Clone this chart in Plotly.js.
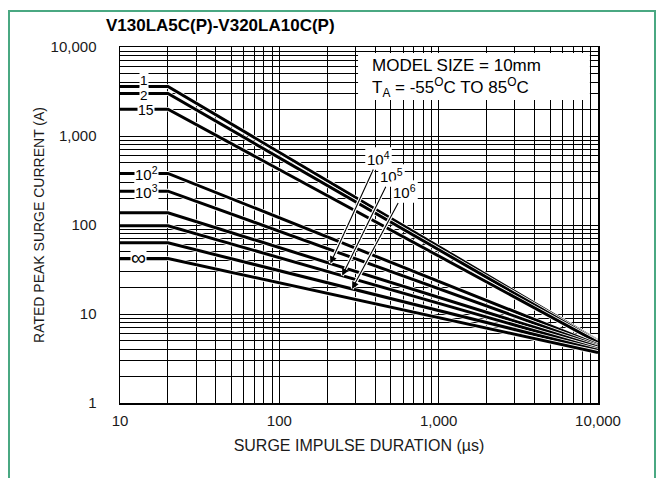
<!DOCTYPE html>
<html>
<head>
<meta charset="utf-8">
<script src="https://cdn.plot.ly/plotly-3.0.1.min.js"></script>
<style>
  html, body { margin: 0; padding: 0; background: #fff; }
  #wrap { position: relative; width: 658px; height: 478px; overflow: hidden; }
  #chart { position: absolute; left: 0; top: 0; width: 658px; height: 478px; }
  #frame { position: absolute; left: 8px; top: 10px; width: 648px; height: 520px;
           box-sizing: border-box; border: 2px solid #4aa882; pointer-events: none; z-index: 5; }
</style>
</head>
<body>
<div id="wrap"><div id="chart"></div><div id="frame"></div></div>
<script>
// ---- data ----
const durations = [10, 20, 10000];                       // µs
const curveNames = ['1', '2', '15', '10²', '10³', '10⁴', '10⁵', '10⁶', '∞'];
const startCurrent = [3600, 3000, 2000, 380, 240, 137, 98, 63, 42];   // A, flat part 10–20 µs
const endCurrent = [5.0, 4.9, 4.8, 4.5, 4.35, 4.25, 4.05, 3.9, 3.7];  // A at 10,000 µs

const xTickVals = [10,20,30,40,50,60,70,80,90,100,200,300,400,500,600,700,800,900,1000,2000,3000,4000,5000,6000,7000,8000,9000,10000];
const xTickText = ['10','','','','','','','','','100','','','','','','','','','1,000','','','','','','','','','10,000'];
const yTickVals = [1,2,3,4,5,6,7,8,9,10,20,30,40,50,60,70,80,90,100,200,300,400,500,600,700,800,900,1000,2000,3000,4000,5000,6000,7000,8000,9000,10000];
const yTickText = ['1','','','','','','','','','10','','','','','','','','','100','','','','','','','','','1,000','','','','','','','','','10,000'];

// left-side inline labels: curve index, x position, vertical shift (px), font size
const leftLabelIdx = [0, 1, 2, 3, 4, 8];
const leftLabelX = [14.2, 14.2, 14.5, 14.7, 14.7, 13.0];
const leftLabelShift = [6, -2, -1, 0, 0, 1];
const leftLabelSize = [13.5, 13.5, 14, 15, 15, 21];
// arrow labels
const arrowLabelIdx = [5, 6, 7];
const arrowHeadX = [209, 248, 286];
const arrowAx = [48, 49, 52];
const arrowAy = [-105, -100, -97];

const FONT = 'Liberation Sans, Arial, Helvetica, sans-serif';

function curveAt(i, x) {
  // log-log interpolation along the sloped part of curve i
  const lx0 = Math.log10(durations[1]), lx1 = Math.log10(durations[2]);
  const ly0 = Math.log10(startCurrent[i]), ly1 = Math.log10(endCurrent[i]);
  const t = (Math.log10(x) - lx0) / (lx1 - lx0);
  return Math.pow(10, ly0 + t * (ly1 - ly0));
}

const traces = [];
curveNames.forEach((name, i) => {
  const ys = [startCurrent[i], startCurrent[i], endCurrent[i]];
  traces.push({ x: durations, y: ys, type: 'scatter', mode: 'lines', hoverinfo: 'skip',
    line: { color: '#ffffff', width: 4.6 }, showlegend: false });
  traces.push({ x: durations, y: ys, type: 'scatter', mode: 'lines', name: name,
    line: { color: '#000000', width: 3 }, showlegend: false });
});

const annotations = [];
leftLabelIdx.forEach((ci, k) => {
  annotations.push({
    x: Math.log10(leftLabelX[k]), y: Math.log10(startCurrent[ci]), xref: 'x', yref: 'y',
    text: curveNames[ci].replace('²', '<sup>2</sup>').replace('³', '<sup>3</sup>'),
    showarrow: false, xanchor: 'center', yanchor: 'middle', yshift: leftLabelShift[k],
    bgcolor: '#ffffff', borderpad: 0,
    font: { family: FONT, size: leftLabelSize[k], color: '#000' }
  });
});
const supMap = { '⁴': '4', '⁵': '5', '⁶': '6' };
arrowLabelIdx.forEach((ci, k) => {
  const txt = '10<sup>' + supMap[curveNames[ci].slice(2)] + '</sup>';
  const hx = arrowHeadX[k], hy = curveAt(ci, hx);
  // white halo under the arrow
  annotations.push({
    x: Math.log10(hx), y: Math.log10(hy), xref: 'x', yref: 'y', text: txt,
    showarrow: true, ax: arrowAx[k], ay: arrowAy[k], arrowcolor: '#ffffff', arrowwidth: 3.5,
    arrowhead: 0, standoff: 0, bgcolor: '#ffffff', borderpad: 1,
    font: { family: FONT, size: 15, color: '#000' }
  });
  annotations.push({
    x: Math.log10(hx), y: Math.log10(hy), xref: 'x', yref: 'y', text: txt,
    showarrow: true, ax: arrowAx[k], ay: arrowAy[k], arrowcolor: '#000000', arrowwidth: 1.1,
    arrowhead: 2, arrowsize: 1.3, standoff: 0, bgcolor: '#ffffff', borderpad: 1,
    font: { family: FONT, size: 15, color: '#000' }
  });
});
annotations.push({
  xref: 'paper', yref: 'paper', x: 0.523, y: 0.947, xanchor: 'left', yanchor: 'middle',
  text: 'MODEL SIZE = 10mm', showarrow: false, align: 'left',
  font: { family: FONT, size: 17, color: '#000' }
});
annotations.push({
  xref: 'paper', yref: 'paper', x: 0.523, y: 0.886, xanchor: 'left', yanchor: 'middle',
  text: 'T<sub>A</sub> = -55<sup>O</sup>C TO 85<sup>O</sup>C', showarrow: false, align: 'left',
  font: { family: FONT, size: 17, color: '#000' }
});

const axisCommon = {
  type: 'log', showgrid: true, gridcolor: '#000000', gridwidth: 1,
  tickmode: 'array', ticks: 'outside', tickcolor: 'rgba(0,0,0,0)',
  showline: true, mirror: true, linecolor: '#000000', linewidth: 1.5,
  zeroline: false, automargin: false,
  tickfont: { family: FONT, size: 15, color: '#1a1a1a' }
};

const layout = {
  width: 658, height: 478,
  margin: { l: 120, r: 60, t: 47, b: 75 },
  paper_bgcolor: '#ffffff', plot_bgcolor: '#ffffff',
  showlegend: false,
  title: {
    text: '<b>V130LA5C(P)-V320LA10C(P)</b>', xref: 'container', x: 0.161, xanchor: 'left',
    yref: 'container', y: 0.947, yanchor: 'middle',
    font: { family: FONT, size: 17, color: '#000' }
  },
  xaxis: Object.assign({}, axisCommon, {
    range: [1, 4], tickvals: xTickVals, ticktext: xTickText, ticklen: 3,
    title: { text: 'SURGE IMPULSE DURATION (µs)', standoff: 12,
      font: { family: FONT, size: 16, color: '#1a1a1a' } }
  }),
  yaxis: Object.assign({}, axisCommon, {
    range: [0, 4], tickvals: yTickVals, ticktext: yTickText, ticklen: 19,
    title: { text: 'RATED PEAK SURGE CURRENT (A)', standoff: 2,
      font: { family: FONT, size: 14, color: '#1a1a1a' } }
  }),
  shapes: [{
    type: 'rect', xref: 'paper', yref: 'paper', x0: 0.498, x1: 0.983, y0: 0.851, y1: 0.983,
    fillcolor: '#ffffff', line: { width: 0 }, layer: 'above'
  }],
  annotations: annotations
};

Plotly.newPlot('chart', traces, layout, { staticPlot: true, displayModeBar: false });
</script>
</body>
</html>
